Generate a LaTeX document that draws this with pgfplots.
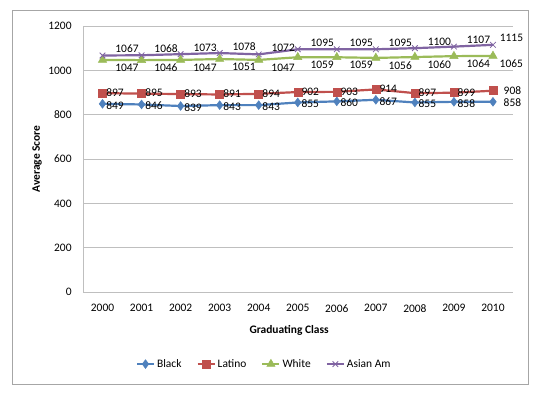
\documentclass[border=0pt]{standalone}
\usepackage{fontspec}
\setmainfont{Carlito}
\usepackage{pgfplots}
\pgfplotsset{compat=1.18}
\definecolor{cBlue}{HTML}{4F81BD}
\definecolor{cRed}{HTML}{C0504D}
\definecolor{cGreen}{HTML}{9BBB59}
\definecolor{cPurple}{HTML}{8064A2}
\definecolor{cGrid}{HTML}{BFBFBF}
\definecolor{cFrame}{HTML}{A6A6A6}
\newcommand{\fs}{\fontsize{11.5}{13}\selectfont}
\begin{document}
\begin{tikzpicture}
\fill[white] (-83bp,-109bp) rectangle (454bp,292bp);
\useasboundingbox (-83bp,-109bp) rectangle (454bp,292bp);
\begin{axis}[
  at={(0,0)}, anchor=south west,
  scale only axis, width=429.5bp, height=266bp,
  xmin=-0.5, xmax=10.5, ymin=0, ymax=1200,
  xtick={0,...,10},
  xticklabels={2000,2001,2002,2003,2004,2005,2006,2007,2008,2009,2010},
  ytick={0,200,400,600,800,1000,1200},
  ymajorgrids, grid style={draw=cGrid, line width=0.9bp},
  axis lines*=left,
  axis line style={draw=cGrid, line width=0.9bp},
  major tick length=0pt,
  tick style={draw=none},
  font=\fs,
  /pgf/number format/assume math mode=true,
  /pgf/number format/1000 sep={},
  yticklabel style={anchor=east, xshift=-7bp},
  xticklabel style={anchor=north, yshift=-8bp},
  xlabel={\textbf{Graduating Class}},
  ylabel={\textbf{Average Score}},
  xlabel style={at={(axis description cs:0.48,-0.143)}, anchor=center},
  ylabel style={at={(axis description cs:-0.107,0.5)}, anchor=center},
  legend style={at={(axis description cs:0.422,-0.271)}, anchor=center,
    draw=none, font=\fs, inner sep=1bp},
  legend columns=4,
  legend cell align=left,
  /tikz/every even column/.append style={column sep=13bp},
  nodes near coords,
  every node near coord/.append style={font=\fs, color=black, inner sep=0.5bp},
  line width=2.2bp,
]
\addplot[color=cBlue, mark=diamond*, mark size=4.4bp, mark options={fill=cBlue, line width=0.5bp},
  every node near coord/.append style={anchor=west, xshift=3bp, yshift=-1.5bp},
  coordinate style/.condition={x==10}{xshift=7bp, yshift=1bp}]
  coordinates {(0,849) (1,846) (2,839) (3,843) (4,843) (5,855) (6,860) (7,867) (8,855) (9,858) (10,858)};
\addlegendentry{Black}
\addplot[color=cRed, mark=square*, mark size=4bp, mark options={fill=cRed, line width=0.5bp},
  every node near coord/.append style={anchor=west, xshift=3bp, yshift=0.5bp},
  coordinate style/.condition={x==10}{xshift=7bp}]
  coordinates {(0,897) (1,895) (2,893) (3,891) (4,894) (5,902) (6,903) (7,914) (8,897) (9,899) (10,908)};
\addlegendentry{Latino}
\addplot[color=cGreen, mark=triangle*, mark size=4.8bp, mark options={fill=cGreen, line width=0.5bp},
  every node near coord/.append style={anchor=north west, xshift=12bp, yshift=-3bp},
  coordinate style/.condition={x==10}{anchor=west, xshift=-6bp, yshift=0bp}]
  coordinates {(0,1047) (1,1046) (2,1047) (3,1051) (4,1047) (5,1059) (6,1059) (7,1056) (8,1060) (9,1064) (10,1065)};
\addlegendentry{White}
\addplot[color=cPurple, mark=x, mark size=4bp, mark options={line width=0.8bp},
  every node near coord/.append style={anchor=south west, xshift=12bp, yshift=2bp},
  coordinate style/.condition={x==10}{anchor=west, xshift=-6bp}]
  coordinates {(0,1067) (1,1068) (2,1073) (3,1078) (4,1072) (5,1095) (6,1095) (7,1095) (8,1100) (9,1107) (10,1115)};
\addlegendentry{Asian Am}
\end{axis}
\draw[cFrame, line width=0.9bp] (-71bp,-92bp) rectangle (445bp,282bp);
\end{tikzpicture}
\end{document}
